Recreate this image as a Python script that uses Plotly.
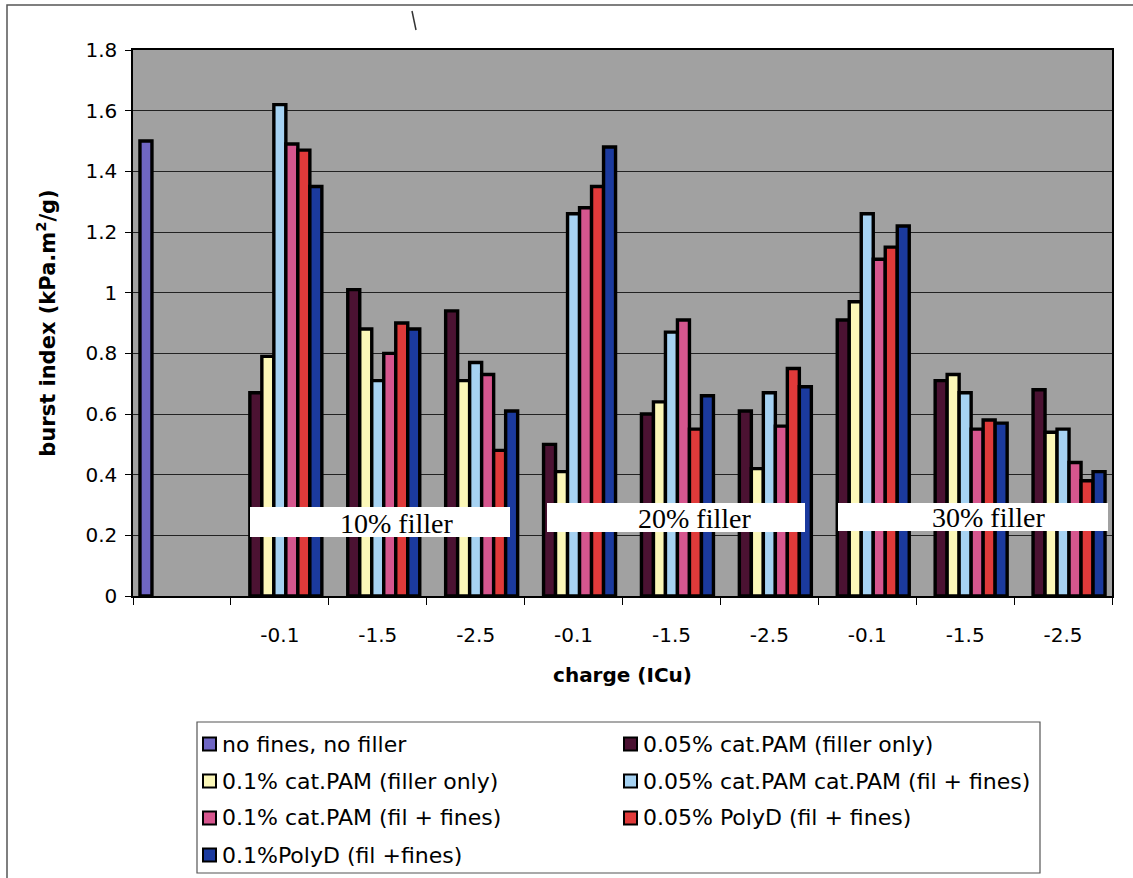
import plotly.graph_objects as go

# ---- data -------------------------------------------------------------
charge_labels = ["", "-0.1", "-1.5", "-2.5", "-0.1", "-1.5", "-2.5", "-0.1", "-1.5", "-2.5"]
category_pos = list(range(len(charge_labels)))

series_names = [
    "no fines, no filler",
    "0.05% cat.PAM (filler only)",
    "0.1% cat.PAM (filler only)",
    "0.05% cat.PAM cat.PAM (fil + fines)",
    "0.1% cat.PAM (fil + fines)",
    "0.05% PolyD (fil + fines)",
    "0.1%PolyD (fil +fines)",
]

no_fines_no_filler = [1.50, None, None, None, None, None, None, None, None, None]
pam005_filler_only = [None, 0.67, 1.01, 0.94, 0.50, 0.60, 0.61, 0.91, 0.71, 0.68]
pam01_filler_only = [None, 0.79, 0.88, 0.71, 0.41, 0.64, 0.42, 0.97, 0.73, 0.54]
pam005_fil_fines = [None, 1.62, 0.71, 0.77, 1.26, 0.87, 0.67, 1.26, 0.67, 0.55]
pam01_fil_fines = [None, 1.49, 0.80, 0.73, 1.28, 0.91, 0.56, 1.11, 0.55, 0.44]
polyd005_fil_fines = [None, 1.47, 0.90, 0.48, 1.35, 0.55, 0.75, 1.15, 0.58, 0.38]
polyd01_fil_fines = [None, 1.35, 0.88, 0.61, 1.48, 0.66, 0.69, 1.22, 0.57, 0.41]

filler_labels = ["10% filler", "20% filler", "30% filler"]

series_values = [
    no_fines_no_filler,
    pam005_filler_only,
    pam01_filler_only,
    pam005_fil_fines,
    pam01_fil_fines,
    polyd005_fil_fines,
    polyd01_fil_fines,
]
series_colors = ["#6F66C4", "#4B1232", "#FBF7B8", "#A6D2F2", "#D6568E", "#E03A3A", "#1B3A9E"]

# ---- page geometry (pixels) -------------------------------------------
FIG_W, FIG_H = 1133, 878
PLOT_L, PLOT_R, PLOT_T, PLOT_B = 133, 1112, 50, 596


def px(x):
    return (x - PLOT_L) / (PLOT_R - PLOT_L)


def py(y):
    return (PLOT_B - y) / (PLOT_B - PLOT_T)


fig = go.Figure()
for name, vals, col in zip(series_names, series_values, series_colors):
    fig.add_trace(go.Bar(
        x=category_pos, y=vals, name=name,
        marker=dict(color=col, line=dict(color="black", width=3.4)),
    ))

shapes = []
annotations = []

# outer chart frame
shapes.append(dict(type="rect", xref="paper", yref="paper",
                   x0=px(7), x1=px(1160), y0=py(905), y1=py(5),
                   line=dict(color="#555555", width=1.5), layer="below"))
# small pen stroke above the plot
shapes.append(dict(type="line", xref="paper", yref="paper",
                   x0=px(412), x1=px(416), y0=py(11), y1=py(30),
                   line=dict(color="#333333", width=1.5)))

# white label boxes for filler levels
filler_boxes = [(250, 510, 507, 537, 396, 523),
                (547, 805, 503, 532, 694, 518),
                (838, 1108, 503, 531, 988, 517)]
for label, (bx0, bx1, by0, by1, tx, ty) in zip(filler_labels, filler_boxes):
    shapes.append(dict(type="rect", xref="paper", yref="paper",
                       x0=px(bx0), x1=px(bx1), y0=py(by1), y1=py(by0),
                       fillcolor="white", line=dict(width=0), layer="above"))
    annotations.append(dict(xref="paper", yref="paper", x=px(tx), y=py(ty),
                            text=label, showarrow=False,
                            xanchor="center", yanchor="middle",
                            font=dict(family="Liberation Serif", size=28, color="black")))

# legend box with two columns of entries
shapes.append(dict(type="rect", xref="paper", yref="paper",
                   x0=px(197), x1=px(1040), y0=py(873), y1=py(722),
                   line=dict(color="#555555", width=1.2), fillcolor="white", layer="below"))
col_x = [203, 624]
row_y = [744, 781, 818, 855]
for i, (name, col) in enumerate(zip(series_names, series_colors)):
    cx = col_x[i % 2]
    cy = row_y[i // 2]
    shapes.append(dict(type="rect", xref="paper", yref="paper",
                       x0=px(cx), x1=px(cx + 13), y0=py(cy + 6.5), y1=py(cy - 6.5),
                       fillcolor=col, line=dict(color="black", width=2)))
    annotations.append(dict(xref="paper", yref="paper", x=px(cx + 17), y=py(cy),
                            text=name, showarrow=False,
                            xanchor="left", yanchor="middle",
                            font=dict(family="DejaVu Sans", size=22, color="black")))

fig.update_layout(
    width=FIG_W, height=FIG_H,
    margin=dict(l=PLOT_L, r=FIG_W - PLOT_R, t=PLOT_T, b=FIG_H - PLOT_B, autoexpand=False),
    paper_bgcolor="white",
    plot_bgcolor="#A1A1A1",
    barmode="group", bargap=0.142, bargroupgap=0,
    showlegend=False,
    font=dict(family="DejaVu Sans", color="black"),
    shapes=shapes,
    annotations=annotations,
    xaxis=dict(
        range=[-0.5, len(charge_labels) - 0.5],
        tickmode="array", tickvals=category_pos, ticktext=charge_labels,
        ticks="", tickfont=dict(size=20, color="black"),
        ticklabelstandoff=20,
        showline=True, linecolor="black", linewidth=1.5, mirror=True,
        showgrid=False, zeroline=False,
        minor=dict(tickmode="array",
                   tickvals=[k - 0.5 for k in range(len(charge_labels) + 1)],
                   ticks="outside", ticklen=7, tickcolor="black", tickwidth=1,
                   showgrid=False),
        title=dict(text="<b>charge (ICu)</b>", font=dict(size=20, color="black"), standoff=22),
    ),
    yaxis=dict(
        range=[0, 1.8], tick0=0, dtick=0.2,
        ticks="outside", ticklen=6, tickcolor="black",
        tickfont=dict(size=20, color="black"), ticklabelstandoff=4,
        showline=True, linecolor="black", linewidth=1.5, mirror=True,
        showgrid=True, gridcolor="#222222", gridwidth=1.2, zeroline=False,
        title=dict(text="<b>burst index (kPa.m<sup>2</sup>/g)</b>",
                   font=dict(size=21, color="black"), standoff=24),
    ),
)

fig.write_html("out.html")
